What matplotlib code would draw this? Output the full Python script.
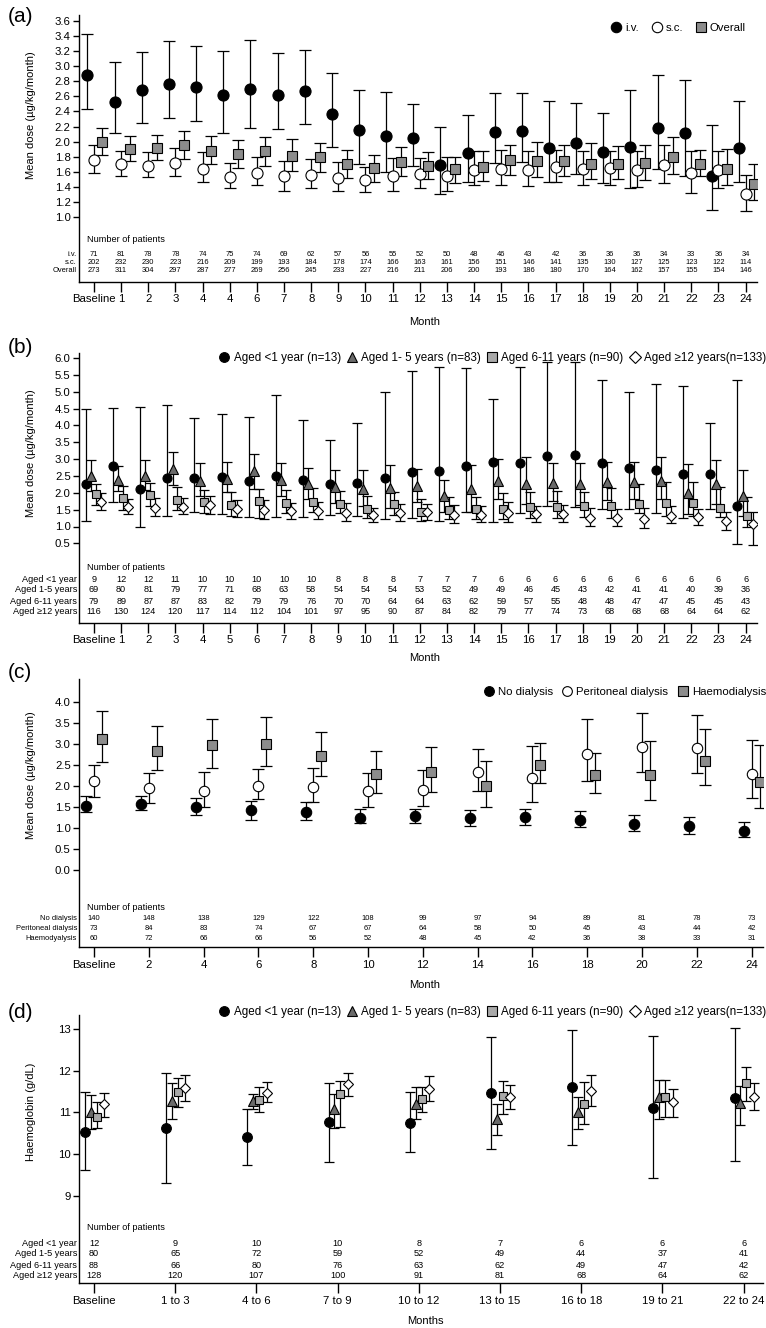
import matplotlib
matplotlib.use("Agg")
import matplotlib.pyplot as plt
from matplotlib.lines import Line2D
from matplotlib.transforms import blended_transform_factory
import numpy as np

plt.rcParams['font.family'] = ['Liberation Sans', 'DejaVu Sans']

# ---------------- DATA ----------------
# Panel (a)
a_labels = ["Baseline", "1", "2", "3", "4", "4", "6", "7", "8", "9", "10", "11", "12",
            "13", "14", "15", "16", "17", "18", "19", "20", "21", "22", "23", "24"]
iv_mean = [2.88, 2.53, 2.68, 2.77, 2.72, 2.62, 2.70, 2.62, 2.67, 2.36, 2.15, 2.07, 2.05,
           1.69, 1.85, 2.13, 2.14, 1.92, 1.98, 1.86, 1.93, 2.18, 2.11, 1.55, 1.91]
iv_hi = [3.43, 3.05, 3.19, 3.33, 3.27, 3.20, 3.35, 3.18, 3.21, 2.91, 2.69, 2.66, 2.50,
         2.20, 2.35, 2.64, 2.64, 2.54, 2.51, 2.38, 2.69, 2.89, 2.82, 2.22, 2.54]
iv_lo = [2.43, 2.11, 2.25, 2.31, 2.27, 2.12, 2.18, 2.17, 2.24, 1.93, 1.71, 1.60, 1.68,
         1.30, 1.46, 1.72, 1.73, 1.46, 1.57, 1.45, 1.38, 1.64, 1.55, 1.09, 1.46]
sc_mean = [1.76, 1.70, 1.68, 1.72, 1.64, 1.53, 1.59, 1.55, 1.56, 1.52, 1.49, 1.55, 1.57,
           1.55, 1.62, 1.64, 1.63, 1.67, 1.64, 1.65, 1.63, 1.69, 1.59, 1.62, 1.30]
sc_hi = [1.95, 1.87, 1.86, 1.92, 1.86, 1.72, 1.79, 1.74, 1.77, 1.73, 1.67, 1.78, 1.78,
         1.80, 1.87, 1.89, 1.87, 1.89, 1.87, 1.88, 1.88, 1.96, 1.87, 1.87, 1.56]
sc_lo = [1.58, 1.54, 1.53, 1.55, 1.46, 1.38, 1.43, 1.35, 1.38, 1.35, 1.33, 1.35, 1.38,
         1.35, 1.42, 1.43, 1.41, 1.46, 1.42, 1.43, 1.40, 1.45, 1.32, 1.38, 1.08]
ov_mean = [2.00, 1.90, 1.92, 1.95, 1.88, 1.84, 1.88, 1.81, 1.80, 1.70, 1.65, 1.73, 1.68,
           1.64, 1.66, 1.76, 1.74, 1.74, 1.71, 1.71, 1.72, 1.79, 1.70, 1.64, 1.44]
ov_hi = [2.18, 2.07, 2.09, 2.14, 2.08, 2.02, 2.06, 2.03, 1.98, 1.89, 1.82, 1.93, 1.86,
         1.80, 1.88, 1.95, 2.00, 1.96, 1.98, 1.94, 1.95, 2.06, 1.89, 1.90, 1.70]
ov_lo = [1.82, 1.74, 1.76, 1.77, 1.70, 1.65, 1.68, 1.61, 1.60, 1.52, 1.47, 1.54, 1.50,
         1.45, 1.48, 1.56, 1.53, 1.54, 1.50, 1.50, 1.49, 1.57, 1.55, 1.43, 1.22]
a_n_iv = [71, 81, 78, 78, 74, 75, 74, 69, 62, 57, 56, 55, 52, 50, 48, 46, 43, 42, 36, 36, 36, 34, 33, 36, 34]
a_n_sc = [202, 232, 230, 223, 216, 209, 199, 193, 184, 178, 174, 166, 163, 161, 156, 151, 146, 141, 135, 130, 127, 125, 123, 122, 114]
a_n_ov = [273, 311, 304, 297, 287, 277, 269, 256, 245, 233, 227, 216, 211, 206, 200, 193, 186, 180, 170, 164, 162, 157, 155, 154, 146]

# Panel (b)
b_labels = ["Baseline"] + [str(i) for i in range(1, 25)]
b1_mean = [2.26, 2.79, 2.12, 2.43, 2.43, 2.47, 2.34, 2.51, 2.39, 2.27, 2.29, 2.45, 2.62,
           2.64, 2.81, 2.92, 2.88, 3.10, 3.12, 2.87, 2.73, 2.69, 2.57, 2.55, 1.60]
b1_hi = [4.49, 4.52, 4.54, 4.61, 4.22, 4.33, 4.25, 4.91, 4.16, 3.56, 4.08, 5.00, 5.60,
         5.74, 5.71, 4.79, 5.74, 5.88, 5.88, 5.35, 4.98, 5.24, 5.18, 4.07, 5.35]
b1_lo = [1.17, 1.72, 0.99, 1.31, 1.42, 1.37, 1.28, 1.29, 1.29, 1.34, 1.31, 1.21, 1.24,
         1.15, 1.43, 1.14, 1.41, 1.61, 1.59, 1.53, 1.51, 1.39, 1.26, 1.53, 0.48]
b2_mean = [2.49, 2.39, 2.51, 2.71, 2.34, 2.41, 2.64, 2.39, 2.25, 2.16, 2.11, 2.13, 2.19,
           1.90, 2.12, 2.36, 2.25, 2.29, 2.26, 2.33, 2.33, 2.35, 1.99, 2.27, 1.91]
b2_hi = [2.96, 2.81, 2.96, 3.21, 2.88, 2.91, 3.14, 2.87, 2.75, 2.67, 2.67, 2.83, 2.72,
         2.38, 2.82, 3.01, 3.05, 2.87, 2.87, 2.91, 2.92, 3.07, 2.86, 2.96, 2.68]
b2_lo = [2.04, 2.04, 2.09, 2.24, 1.91, 2.01, 2.12, 1.91, 1.83, 1.69, 1.61, 1.56, 1.73,
         1.43, 1.43, 1.82, 1.67, 1.75, 1.64, 1.79, 1.81, 1.82, 1.36, 1.68, 1.31]
b3_mean = [1.96, 1.84, 1.93, 1.79, 1.73, 1.65, 1.77, 1.69, 1.74, 1.68, 1.53, 1.66, 1.43,
           1.50, 1.52, 1.53, 1.58, 1.58, 1.62, 1.61, 1.68, 1.71, 1.70, 1.55, 1.31]
b3_hi = [2.26, 2.20, 2.29, 2.18, 2.07, 2.01, 2.12, 2.08, 2.15, 2.04, 1.90, 2.03, 1.81,
         1.88, 1.89, 1.99, 2.01, 2.04, 2.01, 2.14, 2.26, 2.32, 2.31, 2.17, 1.87]
b3_lo = [1.64, 1.49, 1.60, 1.49, 1.41, 1.31, 1.26, 1.39, 1.44, 1.39, 1.25, 1.33, 1.15,
         1.23, 1.22, 1.21, 1.25, 1.25, 1.29, 1.25, 1.39, 1.32, 1.31, 1.29, 1.00]
b4_mean = [1.73, 1.59, 1.56, 1.59, 1.64, 1.52, 1.49, 1.46, 1.46, 1.40, 1.34, 1.40, 1.43,
           1.34, 1.34, 1.40, 1.38, 1.38, 1.26, 1.25, 1.22, 1.32, 1.29, 1.16, 1.08]
b4_hi = [2.00, 1.82, 1.86, 1.86, 1.91, 1.78, 1.78, 1.71, 1.73, 1.69, 1.54, 1.66, 1.66,
         1.63, 1.61, 1.72, 1.61, 1.64, 1.54, 1.51, 1.56, 1.61, 1.53, 1.44, 1.43]
b4_lo = [1.49, 1.37, 1.32, 1.36, 1.38, 1.29, 1.21, 1.21, 1.21, 1.17, 1.14, 1.16, 1.19,
         1.09, 1.12, 1.14, 1.13, 1.14, 1.02, 1.02, 0.96, 1.09, 1.03, 0.91, 0.46]
b_n1 = [9, 12, 12, 11, 10, 10, 10, 10, 10, 8, 8, 8, 7, 7, 7, 6, 6, 6, 6, 6, 6, 6, 6, 6, 6]
b_n2 = [69, 80, 81, 79, 77, 71, 68, 63, 58, 54, 54, 54, 53, 52, 49, 49, 46, 45, 43, 42, 41, 41, 40, 39, 36]
b_n3 = [79, 89, 87, 87, 83, 82, 79, 79, 76, 70, 70, 64, 64, 63, 62, 59, 57, 55, 48, 48, 47, 47, 45, 45, 43]
b_n4 = [116, 130, 124, 120, 117, 114, 112, 104, 101, 97, 95, 90, 87, 84, 82, 79, 77, 74, 73, 68, 68, 68, 64, 64, 62]

# Panel (c)
c_labels = ["Baseline", "2", "4", "6", "8", "10", "12", "14", "16", "18", "20", "22", "24"]
nd_mean = [1.52, 1.57, 1.50, 1.42, 1.38, 1.25, 1.28, 1.24, 1.27, 1.20, 1.10, 1.04, 0.94]
nd_hi = [1.77, 1.77, 1.72, 1.65, 1.61, 1.46, 1.46, 1.44, 1.46, 1.40, 1.30, 1.26, 1.14]
nd_lo = [1.38, 1.42, 1.31, 1.19, 1.19, 1.11, 1.11, 1.05, 1.06, 1.02, 0.94, 0.86, 0.78]
pd_mean = [2.11, 1.95, 1.87, 2.01, 1.97, 1.87, 1.91, 2.34, 2.20, 2.77, 2.94, 2.91, 2.29]
pd_hi = [2.51, 2.32, 2.33, 2.41, 2.43, 2.32, 2.39, 2.87, 2.95, 3.60, 3.75, 3.69, 3.09]
pd_lo = [1.74, 1.60, 1.50, 1.68, 1.63, 1.50, 1.53, 1.87, 1.63, 2.13, 2.33, 2.30, 1.72]
hd_mean = [3.12, 2.83, 2.98, 3.00, 2.71, 2.29, 2.33, 1.99, 2.50, 2.27, 2.26, 2.60, 2.09]
hd_hi = [3.78, 3.44, 3.59, 3.64, 3.29, 2.83, 2.92, 2.60, 3.03, 2.78, 3.07, 3.35, 2.98]
hd_lo = [2.58, 2.37, 2.44, 2.48, 2.23, 1.83, 1.86, 1.50, 2.07, 1.84, 1.67, 2.02, 1.47]
c_n_nd = [140, 148, 138, 129, 122, 108, 99, 97, 94, 89, 81, 78, 73]
c_n_pd = [73, 84, 83, 74, 67, 67, 64, 58, 50, 45, 43, 44, 42]
c_n_hd = [60, 72, 66, 66, 56, 52, 48, 45, 42, 36, 38, 33, 31]

# Panel (d)
d_labels = ["Baseline", "1 to 3", "4 to 6", "7 to 9", "10 to 12", "13 to 15", "16 to 18", "19 to 21", "22 to 24"]
d1_mean = [10.54, 10.62, 10.42, 10.77, 10.74, 11.46, 11.60, 11.10, 11.34]
d1_hi = [11.50, 11.94, 11.08, 11.70, 11.48, 12.82, 12.98, 12.84, 13.03]
d1_lo = [9.62, 9.30, 9.74, 9.82, 10.04, 10.12, 10.22, 9.42, 9.84]
d2_mean = [11.02, 11.28, 11.27, 11.07, 11.20, 10.84, 11.00, 11.37, 11.23]
d2_hi = [11.42, 11.70, 11.44, 11.45, 11.60, 11.20, 11.36, 11.78, 11.63]
d2_lo = [10.60, 10.85, 11.09, 10.62, 10.84, 10.45, 10.60, 10.83, 10.70]
d3_mean = [10.90, 11.48, 11.30, 11.43, 11.32, 11.39, 11.20, 11.37, 11.70]
d3_hi = [11.24, 11.83, 11.62, 11.76, 11.62, 11.76, 11.72, 11.78, 12.10]
d3_lo = [10.62, 11.12, 11.02, 10.66, 11.02, 10.95, 10.72, 10.88, 11.27]
d4_mean = [11.19, 11.58, 11.46, 11.68, 11.55, 11.38, 11.52, 11.24, 11.38]
d4_hi = [11.46, 11.89, 11.72, 11.95, 11.88, 11.66, 11.89, 11.57, 11.70]
d4_lo = [10.88, 11.28, 11.26, 11.39, 11.28, 11.07, 11.15, 10.90, 11.06]
d_n1 = [12, 9, 10, 10, 8, 7, 6, 6, 6]
d_n2 = [80, 65, 72, 59, 52, 49, 44, 37, 41]
d_n3 = [88, 66, 80, 76, 63, 62, 49, 47, 42]
d_n4 = [128, 120, 107, 100, 91, 81, 68, 64, 62]

age_legend = ["Aged <1 year (n=13)", "Aged 1- 5 years (n=83)", "Aged 6-11 years (n=90)", "Aged \u226512 years(n=133)"]
age_rows = ["Aged <1 year", "Aged 1-5 years", "Aged 6-11 years", "Aged \u226512 years"]

# ---------------- LAYOUT ----------------
W, H = 766, 1328
fig = plt.figure(figsize=(W / 100, H / 100), dpi=100)

GREY_SQ = '#8c8c8c'
GREY_TRI = '#6a6a6a'
GREY_LSQ = '#a9a9a9'


def fx(x):
    return x / W


def fy(y):
    return 1 - y / H


def make_ax(left, top, right, bottom, x0px, dxpx, y0px, y0val, pxunit):
    ax = fig.add_axes([fx(left), fy(bottom), (right - left) / W, (bottom - top) / H])
    ax.set_xlim((left - x0px) / dxpx, (right - x0px) / dxpx)
    ax.set_ylim(y0val - (bottom - y0px) / pxunit, y0val + (y0px - top) / pxunit)
    for s in ['top', 'right']:
        ax.spines[s].set_visible(False)
    for s in ['left', 'bottom']:
        ax.spines[s].set_linewidth(1.0)
    ax.tick_params(axis='x', direction='out', length=7, width=1.0, labelsize=8.2, pad=2)
    ax.tick_params(axis='y', direction='out', length=4, width=1.0, labelsize=8.2, pad=2)
    return ax


def series(ax, x, mean, lo, hi, marker, ms, fc, ec='black', cap=4.0, z=3, ecol='black'):
    mean = np.asarray(mean); lo = np.asarray(lo); hi = np.asarray(hi)
    ax.errorbar(x, mean, yerr=[mean - lo, hi - mean], fmt='none', ecolor=ecol,
                elinewidth=0.9, capsize=cap, capthick=0.9, zorder=z)
    ax.plot(x, mean, ls='none', marker=marker, ms=ms, mfc=fc, mec=ec, mew=0.8, zorder=z + 0.5)


def table(ax, labels, rows, ys, fs, head_y, head_fs=6.6):
    tr = blended_transform_factory(ax.transData, fig.transFigure)
    fig.text(fx(87), fy(head_y), "Number of patients", ha='left', va='center', fontsize=head_fs)
    for lab, vals, y in zip(labels, rows, ys):
        fig.text(fx(77), fy(y), lab, ha='right', va='center', fontsize=fs)
        for i, v in enumerate(vals):
            ax.text(i, fy(y), str(v), transform=tr, ha='center', va='center', fontsize=fs, clip_on=False)


def legend(handles, labels, y, right=766, fs=8.4, cs=0.6):
    fig.legend(handles, labels, loc='center right', bbox_to_anchor=(fx(right), fy(y)),
               ncol=len(handles), frameon=False, fontsize=fs, handlelength=0.9,
               handletextpad=0.35, columnspacing=cs, borderpad=0, borderaxespad=0)


def H_(marker, ms, fc, ec='black'):
    return Line2D([], [], ls='none', marker=marker, ms=ms, mfc=fc, mec=ec, mew=0.8)


# ---------- Panel (a) ----------
axa = make_ax(79, 15, 757, 282, 94, 27.15, 21, 3.6, 75.4)
xa = np.arange(len(a_labels))
series(axa, xa - 0.24, iv_mean, iv_lo, iv_hi, 'o', 8, 'black')
series(axa, xa, sc_mean, sc_lo, sc_hi, 'o', 8, 'white')
series(axa, xa + 0.31, ov_mean, ov_lo, ov_hi, 's', 6.5, GREY_SQ)
axa.set_xticks(xa)
axa.set_xticklabels(a_labels)
yt = np.round(np.arange(1.0, 3.61, 0.2), 1)
axa.set_yticks(yt)
axa.set_yticklabels([f"{v:.1f}" for v in yt])
table(axa, ["i.v.", "s.c.", "Overall"], [a_n_iv, a_n_sc, a_n_ov], [254, 262, 270], 5.4, 240)
fig.text(fx(425), fy(322), "Month", ha='center', va='center', fontsize=8)
fig.text(fx(31), fy(115), "Mean dose (\u00b5g/kg/month)", rotation=90, ha='center', va='center', fontsize=8)
fig.text(fx(8), fy(16), "(a)", ha='left', va='center', fontsize=15)
legend([H_('o', 7.5, 'black'), H_('o', 7.5, 'white'), H_('s', 6.5, GREY_SQ)],
       ["i.v.", "s.c.", "Overall"], 28, right=746, fs=8.2, cs=1.1)

# ---------- Panel (b) ----------
axb = make_ax(79, 353, 757, 623, 94, 27.15, 358, 6.0, 33.7)
xb = np.arange(len(b_labels))
series(axb, xb - 0.30, b1_mean, b1_lo, b1_hi, 'o', 6.5, 'black', cap=3.5)
series(axb, xb - 0.105, b2_mean, b2_lo, b2_hi, '^', 7, GREY_TRI, cap=3.5)
series(axb, xb + 0.06, b3_mean, b3_lo, b3_hi, 's', 6, GREY_LSQ, cap=3.5)
series(axb, xb + 0.265, b4_mean, b4_lo, b4_hi, 'D', 5.5, 'white', cap=3.5)
axb.set_xticks(xb)
axb.set_xticklabels(b_labels)
yt = np.round(np.arange(0.5, 6.01, 0.5), 1)
axb.set_yticks(yt)
axb.set_yticklabels([f"{v:.1f}" for v in yt])
table(axb, age_rows, [b_n1, b_n2, b_n3, b_n4], [579, 590, 601, 612], 6.6, 567)
fig.text(fx(425), fy(658), "Month", ha='center', va='center', fontsize=8)
fig.text(fx(31), fy(453), "Mean dose (\u00b5g/kg/month)", rotation=90, ha='center', va='center', fontsize=8)
fig.text(fx(8), fy(348), "(b)", ha='left', va='center', fontsize=15)
legend([H_('o', 7, 'black'), H_('^', 7, GREY_TRI), H_('s', 6.5, GREY_LSQ), H_('D', 6, 'white')],
       age_legend, 358, right=766, fs=8.4, cs=0.5)

# ---------- Panel (c) ----------
axc = make_ax(79, 679, 763, 947, 94, 54.8, 702, 4.0, 42.0)
xc = np.arange(len(c_labels))
series(axc, xc - 0.14, nd_mean, nd_lo, nd_hi, 'o', 7.5, 'black')
series(axc, xc, pd_mean, pd_lo, pd_hi, 'o', 7.5, 'white')
series(axc, xc + 0.146, hd_mean, hd_lo, hd_hi, 's', 6.5, GREY_SQ)
axc.set_xticks(xc)
axc.set_xticklabels(c_labels)
yt = np.round(np.arange(0.0, 4.01, 0.5), 1)
axc.set_yticks(yt)
axc.set_yticklabels([f"{v:.1f}" for v in yt])
table(axc, ["No dialysis", "Peritoneal dialysis", "Haemodyalysis"], [c_n_nd, c_n_pd, c_n_hd],
      [918, 928, 938], 5.4, 908)
fig.text(fx(425), fy(985), "Month", ha='center', va='center', fontsize=8)
fig.text(fx(31), fy(775), "Mean dose (\u00b5g/kg/month)", rotation=90, ha='center', va='center', fontsize=8)
fig.text(fx(8), fy(672), "(c)", ha='left', va='center', fontsize=15)
legend([H_('o', 7, 'black'), H_('o', 7, 'white'), H_('s', 6.5, GREY_SQ)],
       ["No dialysis", "Peritoneal dialysis", "Haemodialysis"], 692, right=766, fs=8.2, cs=0.8)

# ---------- Panel (d) ----------
axd = make_ax(79, 1015, 763, 1283, 94, 81.2, 1029, 13.0, 41.7)
xd = np.arange(len(d_labels))
series(axd, xd - 0.11, d1_mean, d1_lo, d1_hi, 'o', 7, 'black', cap=3.5)
series(axd, xd - 0.04, d2_mean, d2_lo, d2_hi, '^', 7, GREY_TRI, cap=3.5)
series(axd, xd + 0.035, d3_mean, d3_lo, d3_hi, 's', 6, GREY_LSQ, cap=3.5)
series(axd, xd + 0.125, d4_mean, d4_lo, d4_hi, 'D', 5.5, 'white', cap=3.5)
axd.set_xticks(xd)
axd.set_xticklabels(d_labels)
axd.set_yticks([9, 10, 11, 12, 13])
axd.set_yticklabels(["9", "10", "11", "12", "13"])
table(axd, age_rows, [d_n1, d_n2, d_n3, d_n4], [1243, 1254, 1265, 1276], 6.6, 1227)
fig.text(fx(425), fy(1321), "Months", ha='center', va='center', fontsize=8)
fig.text(fx(31), fy(1112), "Haemoglobin (g/dL)", rotation=90, ha='center', va='center', fontsize=8)
fig.text(fx(8), fy(1013), "(d)", ha='left', va='center', fontsize=15)
legend([H_('o', 7, 'black'), H_('^', 7, GREY_TRI), H_('s', 6.5, GREY_LSQ), H_('D', 6, 'white')],
       age_legend, 1012, right=766, fs=8.4, cs=0.5)

fig.savefig("out.png", dpi=100)
